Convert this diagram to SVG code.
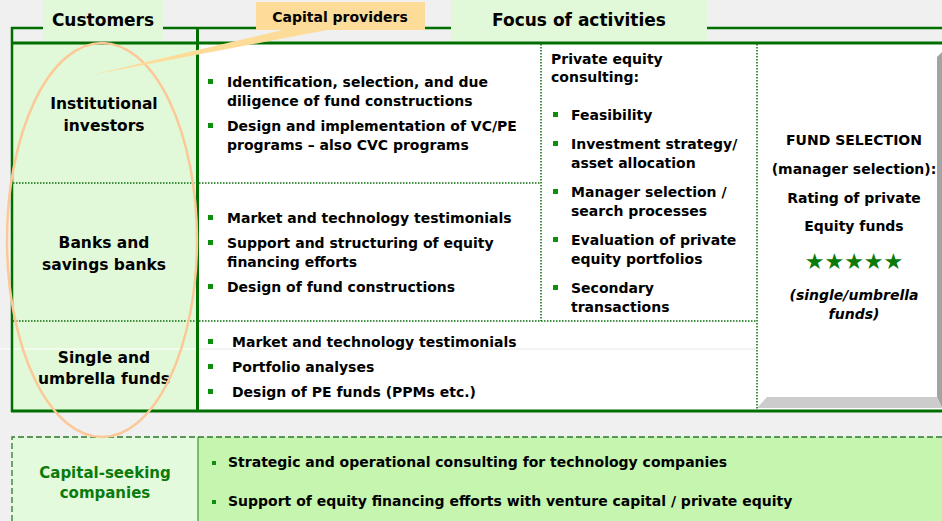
<svg xmlns="http://www.w3.org/2000/svg" width="942" height="521" viewBox="0 0 942 521">
<defs>
<style>
text{font-family:"DejaVu Sans","Verdana",sans-serif;font-weight:bold;fill:#000;}
.h{font-size:17px;}
.cp{font-size:14px;}
.lab{font-size:15.5px;text-anchor:middle;}
.b{font-size:14px;}
.c{font-size:14px;text-anchor:middle;}
.it{font-style:italic;}
.g{fill:#0a7a0a;}
.bul{fill:#0d8f0d;}
.dot{stroke:#0a700a;stroke-width:1.5;stroke-dasharray:1.5 1.5;fill:none;}
.fr{stroke:#006f00;fill:none;}
.tab{fill:#e2f9d9;}
</style>
</defs>
<rect width="942" height="521" fill="#f0f0f0"/>

<g id="frame">
<rect x="13" y="44" width="184" height="366" fill="#e2f9d9"/>
<rect x="199" y="44" width="743" height="366" fill="#ffffff"/>
<polygon points="937,57 942,52 942,408 937,397" fill="#a3a3a3"/>
<polygon points="767,397 937,397 942,408 757,408" fill="#cccccc"/>
<line x1="0" y1="349" x2="197" y2="349" stroke="#ffffff" stroke-width="1"/>
<line x1="199" y1="349" x2="757" y2="349" stroke="#e6e6e6" stroke-width="1"/>
<line x1="13" y1="183" x2="541" y2="183" class="dot"/>
<line x1="13" y1="321" x2="757" y2="321" class="dot"/>
<line x1="541" y1="44" x2="541" y2="321" class="dot"/>
<line x1="757" y1="44" x2="757" y2="409" class="dot"/>
<line x1="11" y1="28" x2="942" y2="28" class="fr" stroke-width="2.5"/>
<line x1="11" y1="43" x2="942" y2="43" class="fr" stroke-width="3"/>
<line x1="12" y1="27" x2="12" y2="412" class="fr" stroke-width="2.5"/>
<line x1="197.5" y1="27" x2="197.5" y2="411" class="fr" stroke-width="3"/>
<line x1="11" y1="411" x2="942" y2="411" class="fr" stroke-width="3"/>
</g>

<g id="tab-customers">
<rect x="43" y="0" width="120" height="41" class="tab"/>
<text x="103" y="26" class="h" text-anchor="middle">Customers</text>
</g>
<g id="tab-focus">
<rect x="451" y="0" width="256" height="41" class="tab"/>
<text x="579" y="26" class="h" text-anchor="middle">Focus of activities</text>
</g>

<g id="institutional-investors">
<text x="104" y="109" class="lab">Institutional</text>
<text x="104" y="131" class="lab">investors</text>
</g>
<g id="banks">
<text x="104" y="248" class="lab">Banks and</text>
<text x="104" y="270" class="lab">savings banks</text>
</g>
<g id="funds">
<text x="104" y="363" class="lab">Single and</text>
<text x="104" y="384" class="lab">umbrella funds</text>
</g>

<g id="row1-activities">
<rect x="208" y="79" width="5" height="5" class="bul"/>
<text x="227" y="87" class="b">Identification, selection, and due</text>
<text x="227" y="106" class="b">diligence of fund constructions</text>
<rect x="208" y="123" width="5" height="5" class="bul"/>
<text x="227" y="131" class="b">Design and implementation of VC/PE</text>
<text x="227" y="150" class="b">programs – also CVC programs</text>
</g>
<g id="row2-activities">
<rect x="208" y="215" width="5" height="5" class="bul"/>
<text x="227" y="223" class="b">Market and technology testimonials</text>
<rect x="208" y="240" width="5" height="5" class="bul"/>
<text x="227" y="248" class="b">Support and structuring of equity</text>
<text x="227" y="267" class="b">financing efforts</text>
<rect x="208" y="284" width="5" height="5" class="bul"/>
<text x="227" y="292" class="b">Design of fund constructions</text>
</g>
<g id="row3-activities">
<rect x="208" y="339" width="5" height="5" class="bul"/>
<text x="232" y="347" class="b">Market and technology testimonials</text>
<rect x="208" y="364" width="5" height="5" class="bul"/>
<text x="232" y="372" class="b">Portfolio analyses</text>
<rect x="208" y="389" width="5" height="5" class="bul"/>
<text x="232" y="397" class="b">Design of PE funds (PPMs etc.)</text>
</g>

<g id="pe-consulting">
<text x="551" y="64" class="b">Private equity</text>
<text x="551" y="82" class="b">consulting:</text>
<rect x="553" y="112" width="5" height="5" class="bul"/>
<text x="571" y="120" class="b">Feasibility</text>
<rect x="553" y="141" width="5" height="5" class="bul"/>
<text x="571" y="149" class="b">Investment strategy/</text>
<text x="571" y="168" class="b">asset allocation</text>
<rect x="553" y="189" width="5" height="5" class="bul"/>
<text x="571" y="197" class="b">Manager selection /</text>
<text x="571" y="216" class="b">search processes</text>
<rect x="553" y="237" width="5" height="5" class="bul"/>
<text x="571" y="245" class="b">Evaluation of private</text>
<text x="571" y="264" class="b">equity portfolios</text>
<rect x="553" y="285" width="5" height="5" class="bul"/>
<text x="571" y="293" class="b">Secondary</text>
<text x="571" y="312" class="b">transactions</text>
</g>

<g id="fund-selection">
<text x="854" y="145" class="c">FUND SELECTION</text>
<text x="854" y="174" class="c">(manager selection):</text>
<text x="854" y="203" class="c">Rating of private</text>
<text x="854" y="231" class="c">Equity funds</text>
<text x="854" y="269" class="c g" style="font-size:22px;font-weight:normal">★★★★★</text>
<text x="854" y="300" class="c it">(single/umbrella</text>
<text x="854" y="319" class="c it">funds)</text>
</g>

<g id="capital-seeking">
<rect x="12" y="437" width="186" height="90" fill="#e4fadc"/>
<rect x="198" y="437" width="744" height="90" fill="#c5f5ae"/>
<line x1="198" y1="437" x2="198" y2="521" stroke="#2a7a2a" stroke-width="1"/>
<path d="M12,521 V437 H942" fill="none" stroke="#2a7a2a" stroke-width="1.3" stroke-dasharray="6 3"/>
<text x="105" y="478" class="lab g" style="font-size:15px">Capital-seeking</text>
<text x="105" y="498" class="lab g" style="font-size:15px">companies</text>
<rect x="212" y="461" width="4" height="4" class="bul"/>
<text x="228" y="467" class="b">Strategic and operational consulting for technology companies</text>
<rect x="212" y="500" width="4" height="4" class="bul"/>
<text x="228" y="506" class="b">Support of equity financing efforts with venture capital / private equity</text>
</g>

<g id="connectors">
<ellipse cx="102" cy="240" rx="95" ry="197" fill="none" stroke="#fcc897" stroke-width="2.5"/>
<polygon points="283,30 327,30 91,75" fill="#fddb99"/>
</g>

<g id="tab-capital-providers">
<rect x="256" y="2" width="169" height="28" fill="#fddb99"/>
<text x="340" y="22" class="cp" text-anchor="middle">Capital providers</text>
</g>
</svg>
